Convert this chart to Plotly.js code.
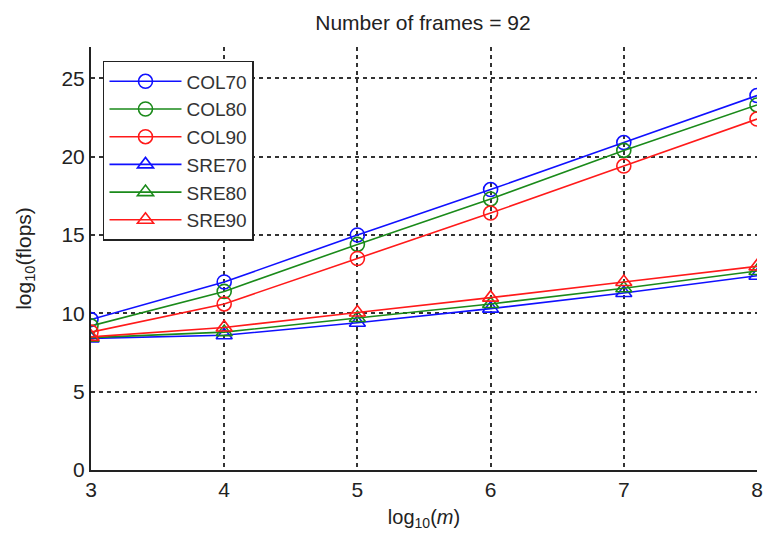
<!DOCTYPE html>
<html>
<head>
<meta charset="utf-8">
<script src="https://cdn.plot.ly/plotly-3.0.1.min.js"></script>
<style>html,body{margin:0;padding:0;background:#fff;}#chart{width:769px;height:536px;}</style>
</head>
<body>
<div id="chart"></div>
<script>
const xLog10m = [3, 4, 5, 6, 7, 8];
const seriesNames = ["COL70", "COL80", "COL90", "SRE70", "SRE80", "SRE90"];
const col70 = [9.6, 12.0, 15.0, 17.9, 20.9, 23.9];
const col80 = [9.2, 11.4, 14.4, 17.3, 20.4, 23.3];
const col90 = [8.8, 10.6, 13.5, 16.4, 19.4, 22.4];
const sre70 = [8.4, 8.6, 9.4, 10.3, 11.3, 12.4];
const sre80 = [8.45, 8.8, 9.7, 10.6, 11.6, 12.7];
const sre90 = [8.5, 9.1, 10.05, 11.0, 12.0, 13.0];
const yTickVals = [0, 5, 10, 15, 20, 25];
const xTickVals = [3, 4, 5, 6, 7, 8];

const values = [col70, col80, col90, sre70, sre80, sre90];
const colors = ["#1010ff", "#1a8a1a", "#ff1a1a", "#1010ff", "#1a8a1a", "#ff1a1a"];
const symbols = ["circle-open", "circle-open", "circle-open", "triangle-up-open", "triangle-up-open", "triangle-up-open"];

const traces = values.map((v, i) => ({
  x: xLog10m, y: v, name: seriesNames[i], type: "scatter", mode: "lines+markers",
  line: {color: colors[i], width: 1.6},
  marker: {symbol: symbols[i], size: 14, color: colors[i], line: {color: colors[i], width: 1.6}}
}));

const fontFam = "Liberation Sans, Arial, sans-serif";
const layout = {
  width: 769, height: 536,
  margin: {l: 91, r: 12, t: 47, b: 66},
  paper_bgcolor: "#fff", plot_bgcolor: "#fff",
  font: {family: fontFam, color: "#222", size: 20},
  title: {text: "Number of frames = 92", x: 0.55, xanchor: "center", y: 0.958, yanchor: "middle", font: {size: 21, color: "#222"}},
  xaxis: {
    range: [3, 8], tickvals: xTickVals, ticktext: xTickVals.map(String),
    showline: true, linecolor: "#222", linewidth: 2, mirror: false,
    showgrid: true, gridcolor: "#333", gridwidth: 2, griddash: "4px,4px",
    zeroline: false, ticks: "", tickfont: {size: 21},
    title: {text: "log<sub>10</sub>(<i>m</i>)", font: {size: 20}, standoff: 10}
  },
  yaxis: {
    range: [0, 27], tickvals: yTickVals, ticktext: yTickVals.map(String),
    showline: true, linecolor: "#222", linewidth: 2, mirror: false,
    showgrid: true, gridcolor: "#333", gridwidth: 2, griddash: "4px,4px",
    zeroline: false, ticks: "", tickfont: {size: 21},
    title: {text: "log<sub>10</sub>(flops)", font: {size: 21}, standoff: 24}
  },
  showlegend: true,
  legend: {
    x: 0.018, y: 0.967, xanchor: "left", yanchor: "top",
    bgcolor: "#fff", bordercolor: "#222", borderwidth: 1.5,
    font: {size: 19, color: "#333"}, itemwidth: 72, tracegroupgap: 0
  }
};

Plotly.newPlot("chart", traces, layout, {displayModeBar: false, staticPlot: true});
</script>
</body>
</html>
